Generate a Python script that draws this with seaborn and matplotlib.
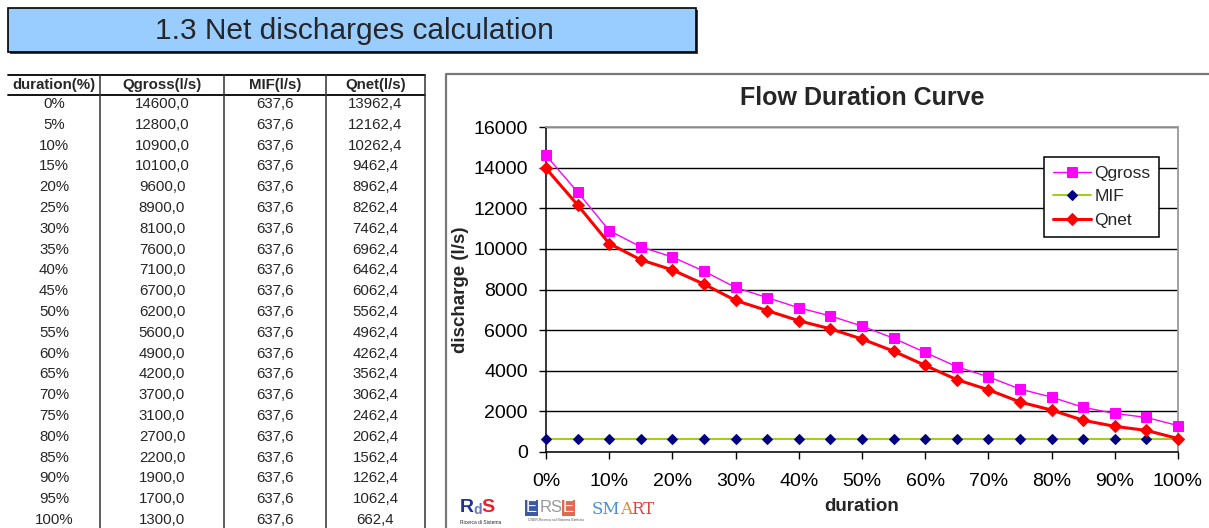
import pandas as pd
import matplotlib.pyplot as plt
import seaborn as sns
from matplotlib.patches import Rectangle
from matplotlib.ticker import FuncFormatter

# table / chart data
duration = [0, 5, 10, 15, 20, 25, 30, 35, 40, 45, 50, 55, 60, 65, 70, 75, 80, 85, 90, 95, 100]
qgross = [14600, 12800, 10900, 10100, 9600, 8900, 8100, 7600, 7100, 6700, 6200,
          5600, 4900, 4200, 3700, 3100, 2700, 2200, 1900, 1700, 1300]
mif = [637.6, 637.6, 637.6, 637.6, 637.6, 637.6, 637.6, 637.6, 637.6, 637.6, 637.6,
       637.6, 637.6, 637.6, 637.6, 637.6, 637.6, 637.6, 637.6, 637.6, 637.6]
qnet = [13962.4, 12162.4, 10262.4, 9462.4, 8962.4, 8262.4, 7462.4, 6962.4, 6462.4, 6062.4, 5562.4,
        4962.4, 4262.4, 3562.4, 3062.4, 2462.4, 2062.4, 1562.4, 1262.4, 1062.4, 662.4]
headers = ["duration(%)", "Qgross(l/s)", "MIF(l/s)", "Qnet(l/s)"]

df = pd.DataFrame({"duration": duration, "Qgross": qgross, "MIF": mif, "Qnet": qnet})

sns.set_theme(style="white")
plt.rcParams['font.family'] = ['Liberation Sans', 'DejaVu Sans']

W, H = 1209, 528
fig = plt.figure(figsize=(W / 100, H / 100), dpi=100)

# overlay in pixel coordinates for the sheet decorations
bg = fig.add_axes([0, 0, 1, 1])
bg.set_xlim(0, W)
bg.set_ylim(H, 0)
bg.axis("off")

# title box
bg.add_patch(Rectangle((10, 10), 688, 44, facecolor="#404040", edgecolor="none"))
bg.add_patch(Rectangle((8, 8), 688, 44, facecolor="#99CCFF", edgecolor="black", lw=1.2))
bg.text(354, 31, "1.3 Net discharges calculation", fontsize=21.5, ha="center", va="center")

# table
cols = [8, 100, 224, 326, 425]
row0, rowh = 104, 20.8
bg.plot([8, 425], [75, 75], color="black", lw=1.3)
bg.plot([8, 425], [95, 95], color="black", lw=1.3)
for x in cols[1:]:
    bg.plot([x, x], [75, H], color="#333333", lw=1.1)
centers = [(cols[i] + cols[i + 1]) / 2 for i in range(4)]
for c, h in zip(centers, headers):
    bg.text(c, 85.5, h, fontsize=10.8, fontweight="bold", ha="center", va="center")
for i, d in enumerate(duration):
    y = row0 + i * rowh
    vals = [f"{d}%", f"{qgross[i]:.1f}", f"{mif[i]:.1f}", f"{qnet[i]:.1f}"]
    for c, v in zip(centers, vals):
        bg.text(c, y, v.replace(".", ","), fontsize=10.8, ha="center", va="center")

# chart frame
bg.plot([446, 446, W], [H, 74, 74], color="#777777", lw=1.6)

# logos (approximated as text)
bg.text(460, 508, "R", color="#1f2f9c", fontsize=14, fontweight="bold", va="center")
bg.text(473, 510, "d", color="#6a78c0", fontsize=10, fontweight="bold", va="center")
bg.text(481, 508, "S", color="#e8202a", fontsize=14, fontweight="bold", va="center")
bg.text(460, 522, "Ricerca di Sistema", fontsize=3.5, va="center")
bg.text(526, 508, "E", color="white", fontsize=12, va="center",
        bbox=dict(boxstyle="square,pad=0.05", fc="#3b5aa0", ec="none"))
bg.text(540, 508, "RS", color="#9a9a9a", fontsize=12, va="center")
bg.text(563, 508, "E", color="white", fontsize=12, va="center",
        bbox=dict(boxstyle="square,pad=0.05", fc="#e06a50", ec="none"))
bg.text(528, 520, "CNER-Ricerca sul Sistema Elettrico", fontsize=2.5, color="#555555", va="center")
bg.text(592, 510, "SM", color="#4a90d0", fontsize=12, family="DejaVu Serif", va="center")
bg.text(620, 510, "A", color="#e0892a", fontsize=12, family="DejaVu Serif", va="center")
bg.text(631, 510, "RT", color="#e04040", fontsize=12, family="DejaVu Serif", va="center")

# chart axes
ax = fig.add_axes([546 / W, (H - 452) / H, 632 / W, 325 / H])
ax.patch.set_alpha(0)
sns.lineplot(data=df, x="duration", y="Qgross", ax=ax, color="#FF00FF", lw=1,
             marker="s", markersize=7, markeredgecolor="#FF00FF", label="Qgross",
             clip_on=False, zorder=3)
sns.lineplot(data=df, x="duration", y="MIF", ax=ax, color="#99CC00", lw=1.3,
             marker="D", markersize=5.5, markerfacecolor="#000080",
             markeredgecolor="#000080", label="MIF", clip_on=False, zorder=3)
sns.lineplot(data=df, x="duration", y="Qnet", ax=ax, color="#FF0000", lw=2.2,
             marker="D", markersize=6.5, markeredgecolor="#FF0000", label="Qnet",
             clip_on=False, zorder=4)

ax.set_xlim(0, 100)
ax.set_ylim(0, 16000)
ax.set_yticks(range(0, 16001, 2000))
ax.set_xticks(range(0, 101, 10))
ax.xaxis.set_major_formatter(FuncFormatter(lambda v, p: f"{v:.0f}%"))
ax.yaxis.grid(True, color="black", lw=1)
ax.set_axisbelow(True)
for s in ["top", "right"]:
    ax.spines[s].set_color("#999999")
    ax.spines[s].set_linewidth(1.3)
for s in ["left", "bottom"]:
    ax.spines[s].set_color("black")
    ax.spines[s].set_linewidth(1.1)
ax.tick_params(axis="y", left=True, direction="out", length=5, width=1, pad=8,
               labelsize=14, colors="black")
ax.tick_params(axis="x", bottom=True, direction="out", length=5, width=1, pad=10,
               labelsize=14, colors="black")

ax.set_title("Flow Duration Curve", fontsize=18, fontweight="bold", pad=16)
ax.set_xlabel("duration", fontsize=13.5, fontweight="bold", labelpad=6)
ax.set_ylabel("discharge (l/s)", fontsize=13.5, fontweight="bold", labelpad=3)

leg = ax.legend(loc="upper right", bbox_to_anchor=(0.984, 0.935), fontsize=12.5,
                frameon=True, fancybox=False, framealpha=1, handlelength=2.2,
                handletextpad=0.2, borderpad=0.5, labelspacing=0.5)
leg.get_frame().set_edgecolor("black")
leg.get_frame().set_linewidth(1.1)

fig.savefig("out.png", dpi=100)
